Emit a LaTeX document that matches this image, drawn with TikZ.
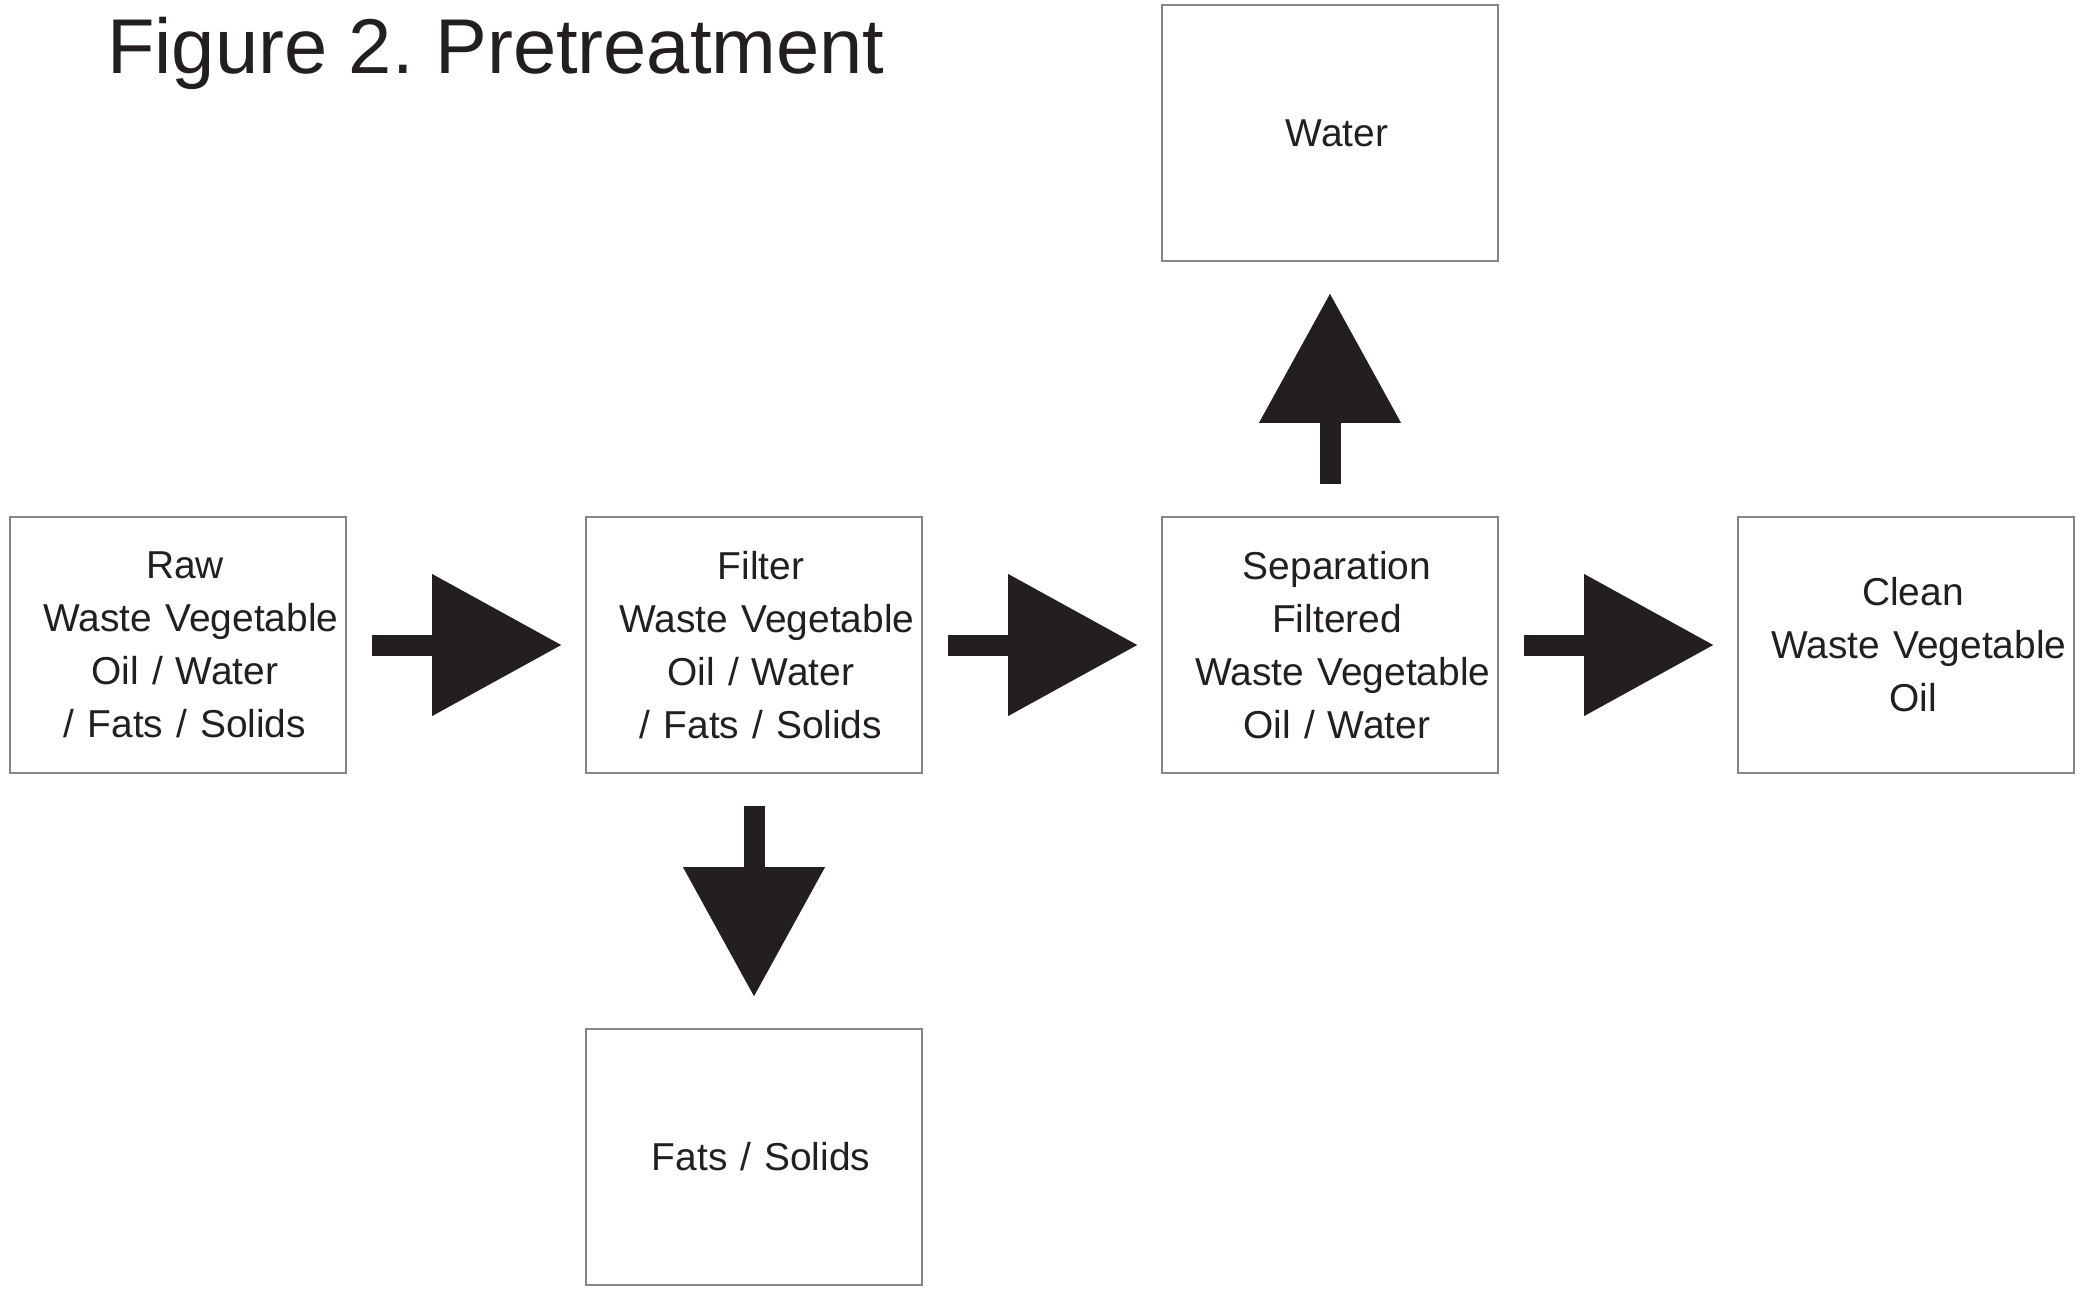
\documentclass[tikz,border=0pt]{standalone}
\usepackage{fontspec}
\setmainfont{Liberation Sans}
\usetikzlibrary{positioning, arrows.meta}
\definecolor{ink}{HTML}{231F20}
\definecolor{boxgray}{HTML}{858585}
\frenchspacing

\begin{document}
\begin{tikzpicture}[x=1pt, y=-1pt, node distance=576pt, on grid,
    box/.style={draw=boxgray, line width=1.6pt, minimum width=336pt, minimum height=256pt,
        inner sep=0pt, text width=336pt, align=center, text=ink, font=\fontsize{38.9}{53}\selectfont,
        execute at begin node={\leftskip=14pt plus 1fil\rightskip=0pt plus 1fil\parfillskip=0pt}},
    flow/.style={draw=ink, line width=21pt, shorten <=25pt, shorten >=24pt,
        -{Triangle[length=129pt, width=142pt, line width=0pt]}},
    drop/.style={flow, shorten <=32pt, shorten >=32pt}]
    \useasboundingbox (0,0) rectangle (2080,1291);

    % Title
    \node[anchor=base west, inner sep=0pt, text=ink, font=\fontsize{77.7}{90}\selectfont] (title) at (107,73) {Figure 2. Pretreatment};

    % Nodes
    \node[box] (raw) at (178,645) {Raw\\ \hspace*{12pt}Waste Vegetable\\ Oil / Water\\ / Fats / Solids};
    \node[box] (filter) [right=of raw] {Filter\\ \hspace*{12pt}Waste Vegetable\\ Oil / Water\\ / Fats / Solids};
    \node[box] (sep) [right=of filter] {Separation\\ Filtered\\ \hspace*{12pt}Waste Vegetable\\ Oil / Water};
    \node[box] (clean) [right=of sep] {Clean\\ \hspace*{12pt}Waste Vegetable\\ Oil};
    \node[box] (water) [above=512pt of sep] {Water};
    \node[box] (fats) [below=512pt of filter] {Fats / Solids};

    % Flows (main line, then the two outputs)
    \draw[flow] (raw) -- (filter);
    \draw[flow] (filter) -- (sep);
    \draw[flow] (sep) -- (clean);
    \draw[drop] (sep) -- (water);
    \draw[drop] (filter) -- (fats);
\end{tikzpicture}
\end{document}
